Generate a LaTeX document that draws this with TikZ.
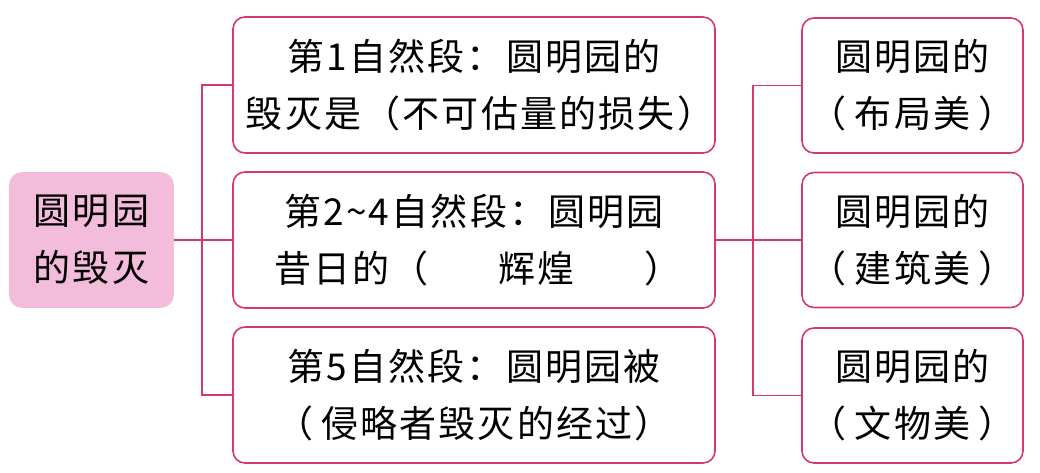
\documentclass[tikz,border=0pt]{standalone}
\usepackage{fontspec}
\newfontfamily\cjk[LetterSpace=6]{Noto Sans CJK SC}
\definecolor{linepink}{RGB}{214,55,110}
\definecolor{rootpink}{RGB}{242,188,218}

\begin{document}
\begin{tikzpicture}[x=1pt,y=-1pt,
  box_node/.style={draw=linepink,line width=1.6pt,rounded corners=12pt,align=center,inner sep=0pt,font=\cjk\fontsize{37}{57}\selectfont},
  root_node/.style={box_node,fill=rootpink,draw=rootpink,minimum width=163pt,minimum height=134pt},
  mid_node/.style={box_node,minimum width=482pt,minimum height=136pt},
  leaf_node/.style={box_node,minimum width=221pt,minimum height=135pt}]

     \useasboundingbox (0,0) rectangle (1040,473);

     \node[root_node] (0) at (91.5,240) {圆明园\\的毁灭};

     \node[mid_node] (1) at (474,85) {第1自然段：圆明园的\\\hspace{12pt}毁灭是（不可估量的损失）};
     \node[mid_node] (2) at (474,240) {第2\textasciitilde 4自然段：圆明园\\\hspace{8pt}昔日的（\hspace{70pt}辉煌\hspace{70pt}）};
     \node[mid_node] (3) at (474,395) {第5自然段：圆明园被\\（\hspace{8pt}侵略者毁灭的经过）};

     \node[leaf_node] (4) at (912.5,85.5) {圆明园的\\（\hspace{8pt}布局美\hspace{8pt}）};
     \node[leaf_node] (5) at (912.5,240) {圆明园的\\（\hspace{8pt}建筑美\hspace{8pt}）};
     \node[leaf_node] (6) at (912.5,395.5) {圆明园的\\（\hspace{8pt}文物美\hspace{8pt}）};

     \coordinate (l) at (202,240);
     \coordinate (r) at (753,240);

     \path[draw,linepink,line width=1.6pt]
     (0.east) -- (2.west)
     (1.west) -| (l) |- (3.west)
     (2.east) -- (5.west)
     (4.west) -| (r) |- (6.west)
     ;

 \end{tikzpicture}
\end{document}
